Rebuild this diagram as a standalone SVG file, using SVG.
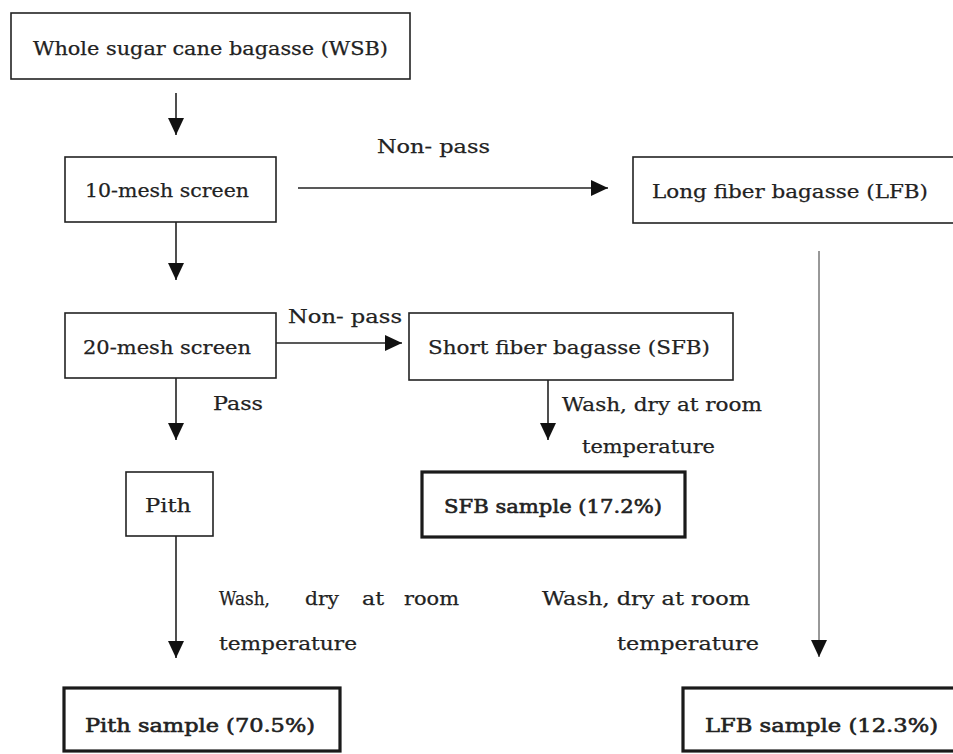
<svg xmlns="http://www.w3.org/2000/svg" width="953" height="754" viewBox="0 0 953 754">
<defs>
<style>
.box{fill:#fff;stroke:#222;stroke-width:1.6}
.thick{fill:#fff;stroke:#1a1a1a;stroke-width:3.2}
.t{font-family:"DejaVu Serif","Liberation Serif",serif;font-size:19px;fill:#222;stroke:#222;stroke-width:0.25}
.b{stroke-width:0.6}
.c{stroke:#222;stroke-width:1.6;fill:none;marker-end:url(#ah)}
.thin{stroke:#333;stroke-width:1;fill:none;marker-end:url(#ah)}
</style>
<marker id="ah" viewBox="0 0 17 16" markerWidth="17" markerHeight="16" refX="17" refY="8" orient="auto" markerUnits="userSpaceOnUse">
<path d="M0,0 L17,8 L0,16 z" fill="#111"/>
</marker>
</defs>
<rect width="953" height="754" fill="#fff"/>
<g id="connectors">
<line class="c" x1="176" y1="93" x2="176" y2="135"/>
<line class="c" x1="298" y1="188" x2="608" y2="188"/>
<line class="c" x1="176" y1="222" x2="176" y2="280"/>
<line class="c" x1="276" y1="343" x2="402" y2="343"/>
<line class="c" x1="176" y1="378" x2="176" y2="440"/>
<line class="c" x1="548" y1="380" x2="548" y2="440"/>
<line class="c" x1="176" y1="536" x2="176" y2="658"/>
<line class="thin" x1="819" y1="251" x2="819" y2="657"/>
<text class="t" x="377" y="153" textLength="113" lengthAdjust="spacingAndGlyphs">Non- pass</text>
<text class="t" x="288" y="323" textLength="114" lengthAdjust="spacingAndGlyphs">Non- pass</text>
<text class="t" x="213" y="410" textLength="50" lengthAdjust="spacingAndGlyphs">Pass</text>
<text class="t" x="562" y="411" textLength="200" lengthAdjust="spacingAndGlyphs">Wash, dry at room</text>
<text class="t" x="582" y="453" textLength="133" lengthAdjust="spacingAndGlyphs">temperature</text>
<text class="t" x="219" y="605" textLength="51" lengthAdjust="spacingAndGlyphs">Wash,</text>
<text class="t" x="305" y="605" textLength="34" lengthAdjust="spacingAndGlyphs">dry</text>
<text class="t" x="362" y="605" textLength="22" lengthAdjust="spacingAndGlyphs">at</text>
<text class="t" x="404" y="605" textLength="55" lengthAdjust="spacingAndGlyphs">room</text>
<text class="t" x="219" y="650" textLength="138" lengthAdjust="spacingAndGlyphs">temperature</text>
<text class="t" x="542" y="605" textLength="208" lengthAdjust="spacingAndGlyphs">Wash, dry at room</text>
<text class="t" x="617" y="650" textLength="142" lengthAdjust="spacingAndGlyphs">temperature</text>
</g>
<g id="wsb">
<rect class="box" x="11" y="13" width="399" height="66"/>
<text class="t" x="33" y="55" textLength="355" lengthAdjust="spacingAndGlyphs">Whole sugar cane bagasse (WSB)</text>
</g>
<g id="mesh10">
<rect class="box" x="65" y="157" width="211" height="65"/>
<text class="t" x="85" y="197" textLength="164" lengthAdjust="spacingAndGlyphs">10-mesh screen</text>
</g>
<g id="lfb">
<rect class="box" x="633" y="157" width="330" height="66"/>
<text class="t" x="652" y="198" textLength="276" lengthAdjust="spacingAndGlyphs">Long fiber bagasse (LFB)</text>
</g>
<g id="mesh20">
<rect class="box" x="65" y="313" width="211" height="65"/>
<text class="t" x="83" y="354" textLength="168" lengthAdjust="spacingAndGlyphs">20-mesh screen</text>
</g>
<g id="sfb">
<rect class="box" x="409" y="313" width="324" height="67"/>
<text class="t" x="428" y="354" textLength="282" lengthAdjust="spacingAndGlyphs">Short fiber bagasse (SFB)</text>
</g>
<g id="pith">
<rect class="box" x="126" y="472" width="87" height="64"/>
<text class="t" x="145" y="512" textLength="46" lengthAdjust="spacingAndGlyphs">Pith</text>
</g>
<g id="sfb-sample">
<rect class="thick" x="422" y="472" width="263" height="65"/>
<text class="t b" x="444" y="513" textLength="218" lengthAdjust="spacingAndGlyphs">SFB sample (17.2%)</text>
</g>
<g id="pith-sample">
<rect class="thick" x="64" y="688" width="276" height="63"/>
<text class="t b" x="85" y="732" textLength="230" lengthAdjust="spacingAndGlyphs">Pith sample (70.5%)</text>
</g>
<g id="lfb-sample">
<rect class="thick" x="683" y="688" width="280" height="63"/>
<text class="t b" x="705" y="732" textLength="233" lengthAdjust="spacingAndGlyphs">LFB sample (12.3%)</text>
</g>
</svg>
